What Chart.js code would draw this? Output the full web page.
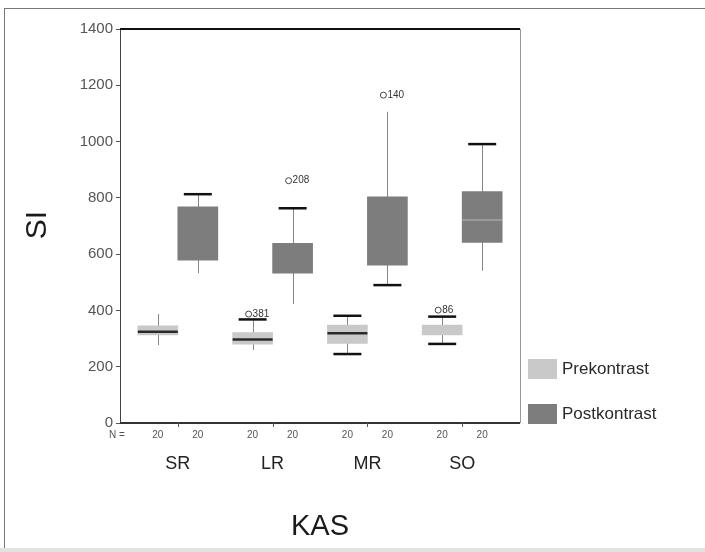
<!DOCTYPE html>
<html>
<head>
<meta charset="utf-8">
<script src="https://cdn.jsdelivr.net/npm/chart.js@4.4.0/dist/chart.umd.min.js"></script>
<style>
  html, body { margin: 0; padding: 0; background: #fff; }
  #wrap { position: relative; width: 705px; height: 552px; overflow: hidden; }
  #frame { position: absolute; left: 4px; top: 8px; right: -2px; height: 539px;
           border-left: 1px solid #777; border-top: 1px solid #777; border-bottom: 1px solid #aaa; }
  #band { position: absolute; left: 0; right: 0; top: 548px; height: 4px; background: #e2e2e2; }
  canvas { position: absolute; left: 0; top: 0; }
</style>
</head>
<body>
<div id="wrap">
  <div id="frame"></div>
  <div id="band"></div>
  <canvas id="chart" width="705" height="552"></canvas>
</div>
<script>
// ================= DATA =================
const categories = ["SR", "LR", "MR", "SO"];
const groups = ["Prekontrast", "Postkontrast"];
const yTicks = [0, 200, 400, 600, 800, 1000, 1200, 1400];

const preLow    = [277, 259, 245, 281];
const preQ1     = [313, 280, 283, 313];
const preMedian = [324, 297, 319, null];
const preQ3     = [345, 321, 348, 348];
const preHigh   = [387, 368, 381, 378];
const preN      = [20, 20, 20, 20];
const preCapTop = [false, true, true, true];
const preCapBot = [false, false, true, true];

const postLow    = [532, 423, 490, 541];
const postQ1     = [579, 532, 561, 642];
const postMedian = [null, null, null, 721];
const postQ3     = [768, 638, 804, 822];
const postHigh   = [813, 763, 1106, 991];
const postN      = [20, 20, 20, 20];
const postCapTop = [true, true, false, true];
const postCapBot = [false, false, true, false];

// outliers: group index (0 pre, 1 post), category index, value, case label
const outGroup = [0, 0, 1, 1];
const outCat   = [1, 3, 1, 2];
const outValue = [387, 401, 861, 1165];
const outLabel = ["381", "86", "208", "140"];

const FONT = "'Liberation Sans', Arial, sans-serif";
const colors = ["#c9c9c9", "#7d7d7d"];

const low = [preLow, postLow], high = [preHigh, postHigh];
const med = [preMedian, postMedian];
const capTop = [preCapTop, postCapTop], capBot = [preCapBot, postCapBot];
const counts = [preN, postN];

// ================= BOX PARTS PLUGIN =================
const boxParts = {
  id: "boxParts",
  beforeDatasetsDraw(chart) {
    const ctx = chart.ctx, y = chart.scales.y;
    ctx.save();
    ctx.strokeStyle = "#858585";
    ctx.lineWidth = 1;
    [0, 1].forEach(g => {
      chart.getDatasetMeta(g).data.forEach((bar, i) => {
        const x = Math.round(bar.x) + 0.5;
        ctx.beginPath();
        ctx.moveTo(x, y.getPixelForValue(low[g][i]));
        ctx.lineTo(x, y.getPixelForValue(high[g][i]));
        ctx.stroke();
      });
    });
    ctx.restore();
  },
  afterDatasetsDraw(chart) {
    const ctx = chart.ctx, y = chart.scales.y, xs = chart.scales.x;
    const a = chart.chartArea;
    ctx.save();

    [0, 1].forEach(g => {
      chart.getDatasetMeta(g).data.forEach((bar, i) => {
        const cx = bar.x, w = bar.width;
        // median
        if (med[g][i] != null) {
          ctx.strokeStyle = g === 0 ? "#2a2a2a" : "#a5a5a5";
          ctx.lineWidth = g === 0 ? 2.5 : 1.5;
          const my = y.getPixelForValue(med[g][i]);
          ctx.beginPath();
          ctx.moveTo(cx - w / 2, my);
          ctx.lineTo(cx + w / 2, my);
          ctx.stroke();
        }
        // caps
        ctx.strokeStyle = "#111";
        ctx.lineWidth = 2.5;
        const capDraw = (v) => {
          const py = y.getPixelForValue(v);
          ctx.beginPath();
          ctx.moveTo(cx - 14, py);
          ctx.lineTo(cx + 14, py);
          ctx.stroke();
        };
        if (capTop[g][i]) capDraw(high[g][i]);
        if (capBot[g][i]) capDraw(low[g][i]);
        // N counts
        ctx.fillStyle = "#555";
        ctx.font = "10px " + FONT;
        ctx.textAlign = "center";
        ctx.textBaseline = "middle";
        ctx.fillText(String(counts[g][i]), cx, 435);
      });
    });

    // outliers
    ctx.font = "10px " + FONT;
    ctx.textAlign = "left";
    ctx.textBaseline = "middle";
    outValue.forEach((v, k) => {
      const bar = chart.getDatasetMeta(outGroup[k]).data[outCat[k]];
      const px = bar.x - 4, py = y.getPixelForValue(v);
      ctx.strokeStyle = "#444";
      ctx.lineWidth = 1;
      ctx.beginPath();
      ctx.arc(px, py, 3, 0, Math.PI * 2);
      ctx.stroke();
      ctx.fillStyle = "#333";
      ctx.fillText(outLabel[k], px + 4, py);
    });

    // frame
    ctx.strokeStyle = "#111";
    ctx.lineWidth = 2;
    ctx.beginPath();
    ctx.moveTo(a.left, a.top); ctx.lineTo(a.right, a.top);
    ctx.stroke();
    ctx.strokeStyle = "#333";
    ctx.beginPath();
    ctx.moveTo(a.left, a.bottom); ctx.lineTo(a.right, a.bottom);
    ctx.stroke();
    ctx.strokeStyle = "#999";
    ctx.lineWidth = 1;
    ctx.beginPath();
    ctx.moveTo(a.right + 0.5, a.top); ctx.lineTo(a.right + 0.5, a.bottom);
    ctx.stroke();

    // category ticks + labels
    ctx.fillStyle = "#222";
    ctx.font = "18px " + FONT;
    ctx.textAlign = "center";
    ctx.textBaseline = "middle";
    categories.forEach((c, i) => {
      const px = xs.getPixelForValue(i + 1);
      ctx.strokeStyle = "#555";
      ctx.lineWidth = 1;
      ctx.beginPath();
      ctx.moveTo(Math.round(px) + 0.5, a.bottom);
      ctx.lineTo(Math.round(px) + 0.5, a.bottom + 4);
      ctx.stroke();
      ctx.fillText(c, px, 464);
    });

    ctx.fillStyle = "#555";
    ctx.font = "10px " + FONT;
    ctx.fillText("N =", 117, 435);

    // axis titles
    ctx.fillStyle = "#1a1a1a";
    ctx.font = "29px " + FONT;
    ctx.textBaseline = "alphabetic";
    ctx.fillText("KAS", (a.left + a.right) / 2, 535);
    ctx.save();
    ctx.translate(38, 225);
    ctx.rotate(-Math.PI / 2);
    ctx.font = "30px " + FONT;
    ctx.textBaseline = "middle";
    ctx.fillText("SI", 0, 0);
    ctx.restore();

    // legend
    ctx.font = "17px " + FONT;
    ctx.textAlign = "left";
    ctx.textBaseline = "middle";
    groups.forEach((name, g) => {
      const top = 359 + g * 45;
      ctx.fillStyle = colors[g];
      ctx.fillRect(528, top, 29, 20);
      ctx.fillStyle = "#2a2a2a";
      ctx.fillText(name, 562, top + 10);
    });

    ctx.restore();
  }
};

// ================= CHART =================
const makeBoxes = (q1, q3) => categories.map((c, i) => ({ x: i + 1, y: [q1[i], q3[i]] }));

new Chart(document.getElementById("chart"), {
  type: "bar",
  data: {
    datasets: [
      { label: groups[0], data: makeBoxes(preQ1, preQ3), backgroundColor: colors[0], borderWidth: 0, barThickness: 40 },
      { label: groups[1], data: makeBoxes(postQ1, postQ3), backgroundColor: colors[1], borderWidth: 0, barThickness: 40 }
    ]
  },
  options: {
    responsive: false,
    animation: false,
    layout: { padding: { left: 74, top: 29, right: 185, bottom: 129 } },
    plugins: {
      legend: { display: false },
      tooltip: { enabled: false }
    },
    scales: {
      x: {
        type: "linear",
        min: 0.39,
        max: 4.61,
        offset: false,
        display: false
      },
      y: {
        min: 0,
        max: 1400,
        afterFit: s => { s.width = 46; },
        afterBuildTicks: s => { s.ticks = yTicks.map(v => ({ value: v })); },
        ticks: {
          color: "#555",
          font: { size: 15, family: FONT },
          padding: 3,
          callback: v => String(v)
        },
        grid: { drawOnChartArea: false, tickLength: 4, color: "#555" },
        border: { color: "#444", width: 1 }
      }
    }
  },
  plugins: [boxParts]
});
</script>
</body>
</html>
